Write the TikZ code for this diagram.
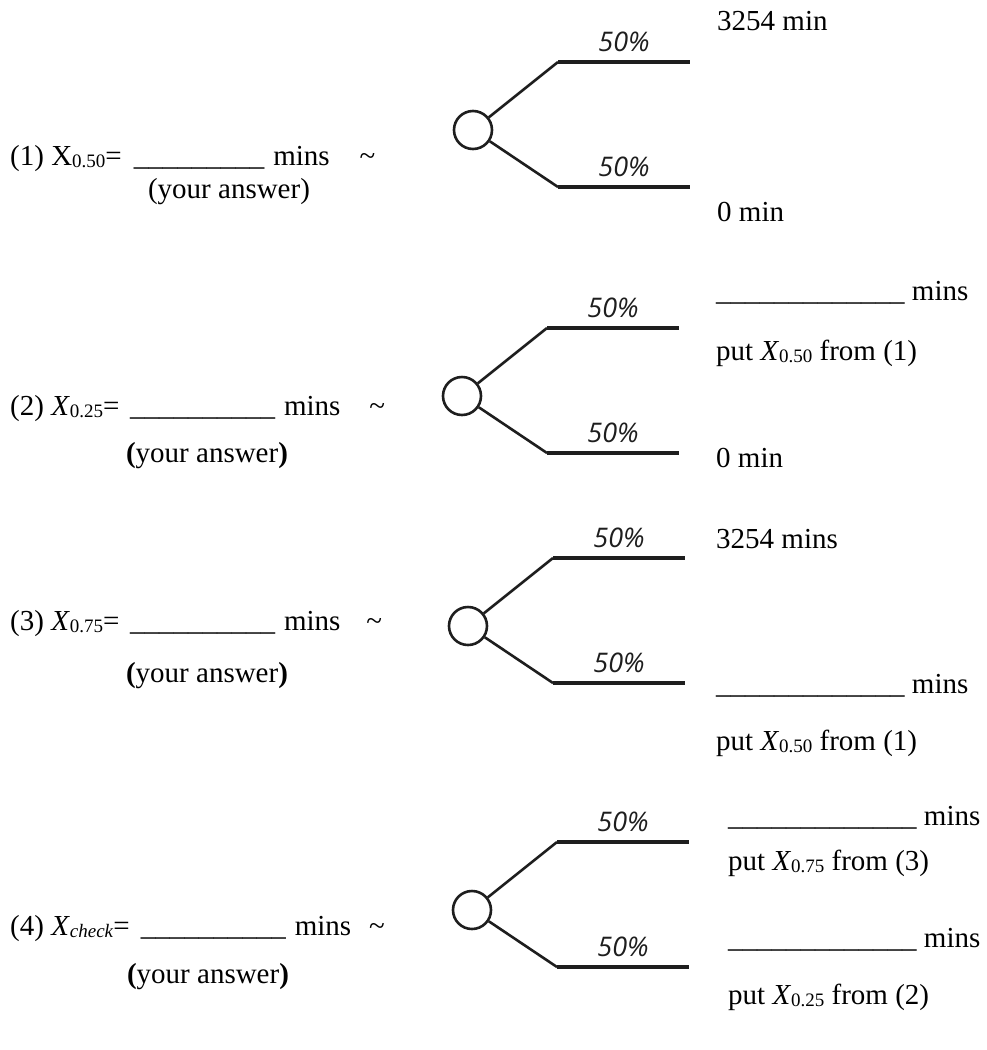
\documentclass[tikz,border=0pt]{standalone}
\usepackage{fontspec}
\setmainfont{Liberation Serif}
\newfontfamily\probfont{Open Sans}
\definecolor{ink}{RGB}{30,30,30}
% lowered, smaller subscript for the quantile symbols
\newcommand\subs[1]{\raisebox{-2pt}{\fontsize{19}{19}\selectfont #1}}
% answer blanks
\newcommand\blankA{\_\_\_\_\_\_\_\_\_}
\newcommand\blankB{\_\_\_\_\_\_\_\_\_\_}
\newcommand\blankC{\_\_\_\_\_\_\_\_\_\_\_\_\_}
\begin{document}
\begin{tikzpicture}[x=1pt,y=-1pt,
  txt/.style={anchor=base west, inner sep=0pt, font=\fontsize{29}{34}\selectfont},
  ctr/.style={anchor=base, inner sep=0pt, font=\fontsize{29}{34}\selectfont},
  chance/.style={circle, draw=ink, line width=2.6pt, minimum size=38pt, inner sep=0pt},
  branch/.style={draw=ink, line width=2.6pt},
  payoff/.style={draw=ink, line width=4.2pt},
  prob/.style={midway, anchor=base, yshift=11pt, inner sep=0pt,
    font=\probfont\itshape\fontsize{27}{30}\selectfont, text=ink}]
\useasboundingbox (0,0) rectangle (986,1050);

% chance nodes with their two 50% branches
\foreach \i/\cx/\cy in {1/473/130, 2/462/396, 3/468/626, 4/472/910} {
  \node[chance] (c\i) at (\cx,\cy) {};
  \coordinate (hu\i) at (\cx+85,\cy-68);
  \coordinate (eu\i) at (\cx+217,\cy-68);
  \coordinate (hl\i) at (\cx+85,\cy+57);
  \coordinate (el\i) at (\cx+217,\cy+57);
  \draw[branch] (c\i) -- (hu\i);
  \draw[branch] (c\i) -- (hl\i);
  \draw[payoff] (hu\i) -- node[prob] {50\%} (eu\i);
  \draw[payoff] (hl\i) -- node[prob] {50\%} (el\i);
}

% left-hand questions
\node[txt] (q1) at (10,165) {(1) X\subs{0.50}=\hspace{12pt}\blankA\hspace{9pt}mins\hspace{30pt}\textasciitilde};
\node[ctr] (a1) at (229,198) {(your answer)};

\node[txt] (q2) at (10,415) {(2) \textit{X}\subs{0.25}=\hspace{10.5pt}\blankB\hspace{9pt}mins\hspace{29pt}\textasciitilde};
\node[ctr] (a2) at (207,462) {\textbf{(}your answer\textbf{)}};

\node[txt] (q3) at (10,630) {(3) \textit{X}\subs{0.75}=\hspace{10.5pt}\blankB\hspace{9pt}mins\hspace{26pt}\textasciitilde};
\node[ctr] (a3) at (207,682) {\textbf{(}your answer\textbf{)}};

\node[txt] (q4) at (10,935) {(4) \textit{X}\subs{\textit{check}}=\hspace{11pt}\blankB\hspace{9pt}mins\hspace{18pt}\textasciitilde};
\node[ctr] (a4) at (208,983) {\textbf{(}your answer\textbf{)}};

% right-hand outcomes
\node[txt] (o1u) at (717,30) {3254 min};
\node[txt] (o1l) at (717,221) {0 min};

\node[txt] (o2u) at (716,300) {\blankC\ mins};
\node[txt] (o2n) at (716,360) {put \textit{X}\subs{0.50} from (1)};
\node[txt] (o2l) at (716,467) {0 min};

\node[txt] (o3u) at (716,548) {3254 mins};
\node[txt] (o3l) at (716,693) {\blankC\ mins};
\node[txt] (o3n) at (716,750) {put \textit{X}\subs{0.50} from (1)};

\node[txt] (o4u) at (728,825) {\blankC\ mins};
\node[txt] (o4n) at (728,870) {put \textit{X}\subs{0.75} from (3)};
\node[txt] (o4l) at (728,947) {\blankC\ mins};
\node[txt] (o4m) at (728,1004) {put \textit{X}\subs{0.25} from (2)};
\end{tikzpicture}
\end{document}
